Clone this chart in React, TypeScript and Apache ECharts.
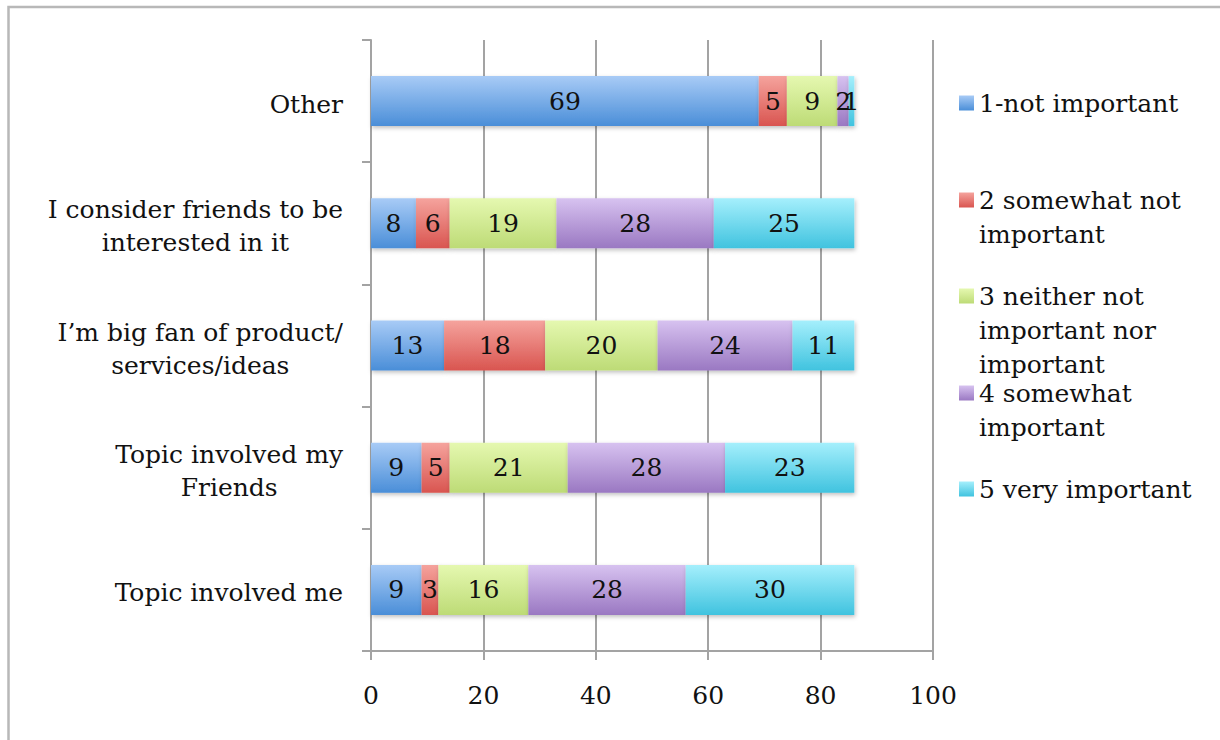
import React, { useEffect, useRef } from "react";
import * as echarts from "echarts";

const categories = [
  "Topic involved me",
  "Topic involved my\nFriends",
  "I’m big fan of product/\nservices/ideas",
  "I consider friends to be\ninterested in it",
  "Other",
];
const seriesNames = [
  "1-not important",
  "2 somewhat not\nimportant",
  "3 neither not\nimportant nor\nimportant",
  "4 somewhat\nimportant",
  "5 very important",
];
const notImportant = [9, 9, 13, 8, 69];
const somewhatNot = [3, 5, 18, 6, 5];
const neither = [16, 21, 20, 19, 9];
const somewhat = [28, 28, 24, 28, 2];
const veryImportant = [30, 23, 11, 25, 1];
const xTicks = [0, 20, 40, 60, 80, 100];

const seriesValues = [notImportant, somewhatNot, neither, somewhat, veryImportant];
const gradients = [
  ["#a8cbf6", "#4a8ed8"],
  ["#f5a39d", "#d95550"],
  ["#e5f8b0", "#bddb76"],
  ["#d7c2f0", "#9a78c2"],
  ["#a5effc", "#40c3df"],
];
const legendCenters = [103, 200, 296, 393, 489];

const FONT = "DejaVu Serif";
const GRAY = "#a3a3a3";
const FS = 25;

export default function App() {
  const ref = useRef<HTMLDivElement>(null);
  useEffect(() => {
    if (!ref.current) return;
    const chart = echarts.init(ref.current, undefined, { renderer: "svg" });
    const LH = 34;
    const legends = seriesNames.map((name, i) => {
      const n = name.split("\n").length;
      return {
        data: [name],
        left: 959,
        top: legendCenters[i] - (2 * n - 1) * (LH / 2),
        padding: 0,
        orient: "vertical",
        itemWidth: 15,
        itemHeight: 15,
        icon: "rect",
        selectedMode: false,
        formatter: (nm: string) => "\n".repeat(n - 1) + nm,
        textStyle: {
          fontFamily: FONT,
          fontSize: FS,
          color: "#111",
          lineHeight: LH,
        },
      };
    });
    chart.setOption({
      animation: false,
      backgroundColor: "#fff",
      graphic: [
        {
          type: "rect",
          shape: { x: 8.5, y: 7, width: 1240, height: 760 },
          style: { fill: "none", stroke: "#b8b8b8", lineWidth: 2.5 },
          silent: true,
        },
      ],
      legend: legends,
      grid: { left: 371, right: 287, top: 40, bottom: 89, containLabel: false },
      xAxis: {
        type: "value",
        min: 0,
        max: 100,
        interval: 20,
        axisLine: { show: true, lineStyle: { color: GRAY, width: 2 } },
        axisTick: { show: true, length: 9, lineStyle: { color: GRAY, width: 2 } },
        splitLine: { show: true, lineStyle: { color: GRAY, width: 2 } },
        axisLabel: {
          margin: 32,
          fontFamily: FONT,
          fontSize: FS,
          color: "#111",
          formatter: (v: number) => (xTicks.includes(v) ? String(v) : ""),
        },
      },
      yAxis: {
        type: "category",
        data: categories,
        axisLine: { show: true, lineStyle: { color: GRAY, width: 2 } },
        axisTick: { show: true, length: 9, lineStyle: { color: GRAY, width: 2 } },
        splitLine: { show: false },
        axisLabel: {
          margin: 28,
          fontFamily: FONT,
          fontSize: FS,
          color: "#111",
          lineHeight: 33,
          padding: [6, 0, 0, 0],
          formatter: (v: string) =>
            v
              .split("\n")
              .map((l) => `{c|${l}}`)
              .join("\n"),
          rich: {
            c: {
              align: "center",
              fontFamily: FONT,
              fontSize: FS,
              color: "#111",
              lineHeight: 33,
            },
          },
        },
      },
      series: seriesNames.map((name, i) => ({
        name,
        type: "bar",
        stack: "total",
        barWidth: 50,
        data: seriesValues[i],
        itemStyle: {
          color: new echarts.graphic.LinearGradient(0, 0, 0, 1, [
            { offset: 0, color: gradients[i][0] },
            { offset: 1, color: gradients[i][1] },
          ]),
          shadowColor: "rgba(0,0,0,0.25)",
          shadowBlur: 4,
          shadowOffsetX: 1,
          shadowOffsetY: 2,
        },
        label: {
          show: true,
          position: "inside",
          fontFamily: FONT,
          fontSize: FS,
          color: "#111",
        },
      })),
    });
    return () => chart.dispose();
  }, []);
  return (
    <div
      ref={ref}
      style={{ position: "absolute", left: 0, top: 0, width: 1220, height: 740 }}
    />
  );
}
